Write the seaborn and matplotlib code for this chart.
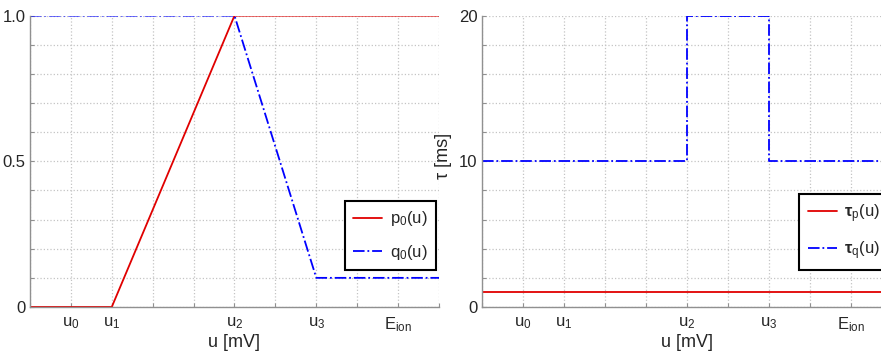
import numpy as np
import pandas as pd
import matplotlib
matplotlib.use("Agg")
import matplotlib.pyplot as plt
import seaborn as sns

# potenciais caracteristicos no eixo u
tick_pos = [0, 1, 2, 3, 4, 5, 6, 7, 8, 9, 10]
tick_lab = ['', r'$\mathrm{u_0}$', r'$\mathrm{u_1}$', '', '', r'$\mathrm{u_2}$', '',
            r'$\mathrm{u_3}$', '', r'$\mathrm{E_{ion}}$', '']

# probabilidades
p0_u = [0, 2, 5, 10]
p0_val = [0, 0, 1, 1]
q0_u = [0, 5, 7, 10]
q0_val = [1, 1, 0.1, 0.1]

# constantes de tempo (ms)
taup_u = [0, 10]
taup_val = [1, 1]
tauq_u = [0, 5, 5, 7, 7, 10]
tauq_val = [10, 10, 20, 20, 10, 10]

sns.set_style("whitegrid")
plt.rcParams['font.family'] = ['Liberation Sans', 'DejaVu Sans']
plt.rcParams['mathtext.fontset'] = 'custom'
plt.rcParams['mathtext.rm'] = 'Liberation Sans'
plt.rcParams['mathtext.it'] = 'Liberation Sans:italic'
plt.rcParams['mathtext.bf'] = 'Liberation Sans:bold'

fig = plt.figure(figsize=(8.81, 3.54), dpi=100)
ax1 = fig.add_axes([0.034, 0.1328, 0.4643, 0.823])
ax2 = fig.add_axes([0.5468, 0.1328, 0.4654, 0.823])

red = '#e00000'
blue = '#0000ff'


def estilo(ax):
    ax.grid(True, color='#c4c4c4', linestyle=':', linewidth=0.9)
    for s in ['top', 'right']:
        ax.spines[s].set_visible(False)
    for s in ['left', 'bottom']:
        ax.spines[s].set_color('#909090')
        ax.spines[s].set_linewidth(1.0)
    ax.set_xlim(0, 10)
    ax.set_xticks(tick_pos)
    ax.set_xticklabels(tick_lab, fontsize=14)
    ax.tick_params(direction='in', length=3, color='#909090',
                   labelsize=12, left=True, bottom=True)
    ax.tick_params(axis='x', pad=6)
    ax.tick_params(axis='y', labelsize=12, pad=3)
    ax.set_xlabel('u [mV]', fontsize=13, labelpad=0)


def legenda(ax, x0):
    leg = ax.legend(loc='lower left', bbox_to_anchor=(x0, 0.127), fontsize=12,
                    frameon=True, fancybox=False, edgecolor='black', framealpha=1,
                    labelspacing=0.85, handlelength=1.75, handletextpad=0.45,
                    borderpad=0.5, borderaxespad=0)
    leg.get_frame().set_linewidth(1.5)


df_p = pd.DataFrame({'u': p0_u, 'v': p0_val})
df_q = pd.DataFrame({'u': q0_u, 'v': q0_val})
sns.lineplot(data=df_p, x='u', y='v', ax=ax1, color=red, lw=1.3,
             label=r'$\mathrm{p_0(u)}$', sort=False, estimator=None)
sns.lineplot(data=df_q, x='u', y='v', ax=ax1, color=blue, lw=1.3, ls='-.',
             label=r'$\mathrm{q_0(u)}$', sort=False, estimator=None)
estilo(ax1)
ax1.set_ylim(0, 1)
ax1.set_yticks(np.arange(0, 1.01, 0.1))
ax1.set_yticklabels(['0', '', '', '', '', '0.5', '', '', '', '', '1.0'])
ax1.set_ylabel('')
legenda(ax1, 0.770)

df_tp = pd.DataFrame({'u': taup_u, 'v': taup_val})
df_tq = pd.DataFrame({'u': tauq_u, 'v': tauq_val})
sns.lineplot(data=df_tp, x='u', y='v', ax=ax2, color=red, lw=1.3,
             label=r'$\mathbf{\tau}_\mathrm{p}\mathrm{(u)}$', sort=False, estimator=None)
sns.lineplot(data=df_tq, x='u', y='v', ax=ax2, color=blue, lw=1.3, ls='-.',
             label=r'$\mathbf{\tau}_\mathrm{q}\mathrm{(u)}$', sort=False, estimator=None)
estilo(ax2)
ax2.set_ylim(0, 20)
ax2.set_yticks(np.arange(0, 20.1, 2))
ax2.set_yticklabels(['0', '', '', '', '', '10', '', '', '', '', '20'])
ax2.set_ylabel('τ [ms]', fontsize=13)
ax2.yaxis.set_label_coords(-0.072, 0.52)
legenda(ax2, 0.775)

fig.savefig('out.png', dpi=100)
